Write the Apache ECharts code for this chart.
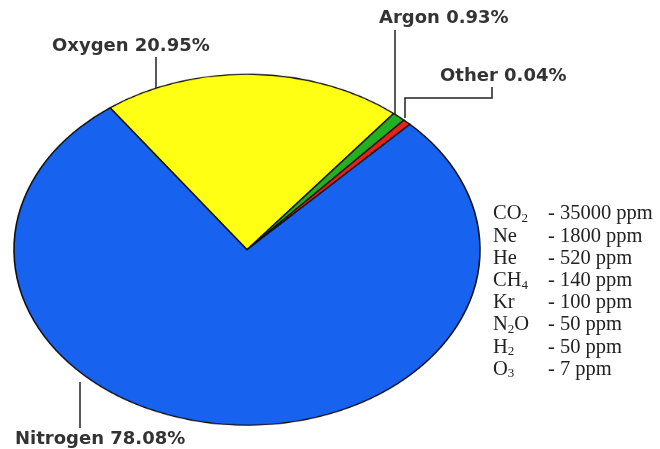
<!DOCTYPE html>
<html>
<head>
<meta charset="utf-8">
<script src="https://cdn.jsdelivr.net/npm/echarts@6/dist/echarts.min.js"></script>
<style>
  html, body { margin: 0; padding: 0; background: #fff; overflow: hidden; }
  #wrap { position: relative; width: 660px; height: 449px; overflow: hidden; }
  #pie { position: absolute; left: 0; top: 69px; width: 660px; height: 490px;
         transform: scaleY(0.753); transform-origin: 0 0; }
  #over { position: absolute; left: 0; top: 0; width: 660px; height: 449px; }
</style>
</head>
<body>
<div id="wrap">
  <div id="pie"></div>
  <div id="over"></div>
</div>
<script>
// ---- data ----
var sliceNames  = ['Oxygen', 'Argon', 'Other', 'Nitrogen'];
var sliceValues = [20.95, 0.93, 0.04, 78.08];
var sliceColors = ['#FFFF14', '#22B022', '#E82020', '#1862F0'];

var gasNames = ['CO{s|2}', 'Ne', 'He', 'CH{s|4}', 'Kr', 'N{s|2}O', 'H{s|2}', 'O{s|3}'];
var gasPpm   = [35000, 1800, 520, 140, 100, 50, 50, 7];

// ---- pie (drawn circular, squashed vertically into an ellipse) ----
var pie = echarts.init(document.getElementById('pie'), null, { renderer: 'canvas' });
pie.setOption({
  animation: false,
  series: [{
    type: 'pie',
    center: [247, 240],
    radius: 233,
    startAngle: 126,
    clockwise: true,
    minAngle: 2,
    avoidLabelOverlap: false,
    label: { show: false },
    labelLine: { show: false },
    emphasis: { disabled: true },
    itemStyle: { borderColor: '#111', borderWidth: 1.6 },
    data: sliceNames.map(function (n, i) {
      return { name: n, value: sliceValues[i], itemStyle: { color: sliceColors[i] } };
    })
  }]
});

// ---- labels, leader lines and side list ----
var over = echarts.init(document.getElementById('over'), null, { renderer: 'canvas' });
var labelFont = 'bold 18px "DejaVu Sans", sans-serif';
var labelPos = { Oxygen: [52, 46], Argon: [379, 18], Other: [440, 76], Nitrogen: [15, 439] };
var leaders = {
  Oxygen:   [[156, 57], [156, 88]],
  Argon:    [[395, 30], [395, 114]],
  Other:    [[492, 87], [492, 98], [405, 98], [405, 118]],
  Nitrogen: [[80, 382], [80, 428]]
};
var elements = [];
sliceNames.forEach(function (n, i) {
  elements.push({
    type: 'text', x: labelPos[n][0], y: labelPos[n][1],
    style: { text: n + ' ' + sliceValues[i].toFixed(2) + '%', font: labelFont,
             fill: '#333', verticalAlign: 'middle' }
  });
  elements.push({
    type: 'polyline', shape: { points: leaders[n] },
    style: { stroke: '#222', lineWidth: 1.5, fill: null }
  });
});
var serif = '20.5px "Liberation Serif", "Times New Roman", serif';
gasNames.forEach(function (g, i) {
  var y = 214 + i * 22.2;
  elements.push({
    type: 'text', x: 493, y: y,
    style: { text: g, font: serif, fill: '#222', verticalAlign: 'middle',
             rich: { s: { fontSize: 13, fontFamily: 'Liberation Serif', verticalAlign: 'bottom', padding: [9, 0, 0, 0], fill: '#222' } } }
  });
  elements.push({
    type: 'text', x: 548, y: y,
    style: { text: '- ' + gasPpm[i] + ' ppm', font: serif, fill: '#222', verticalAlign: 'middle' }
  });
});
over.setOption({ animation: false, graphic: { elements: elements } });
</script>
</body>
</html>
